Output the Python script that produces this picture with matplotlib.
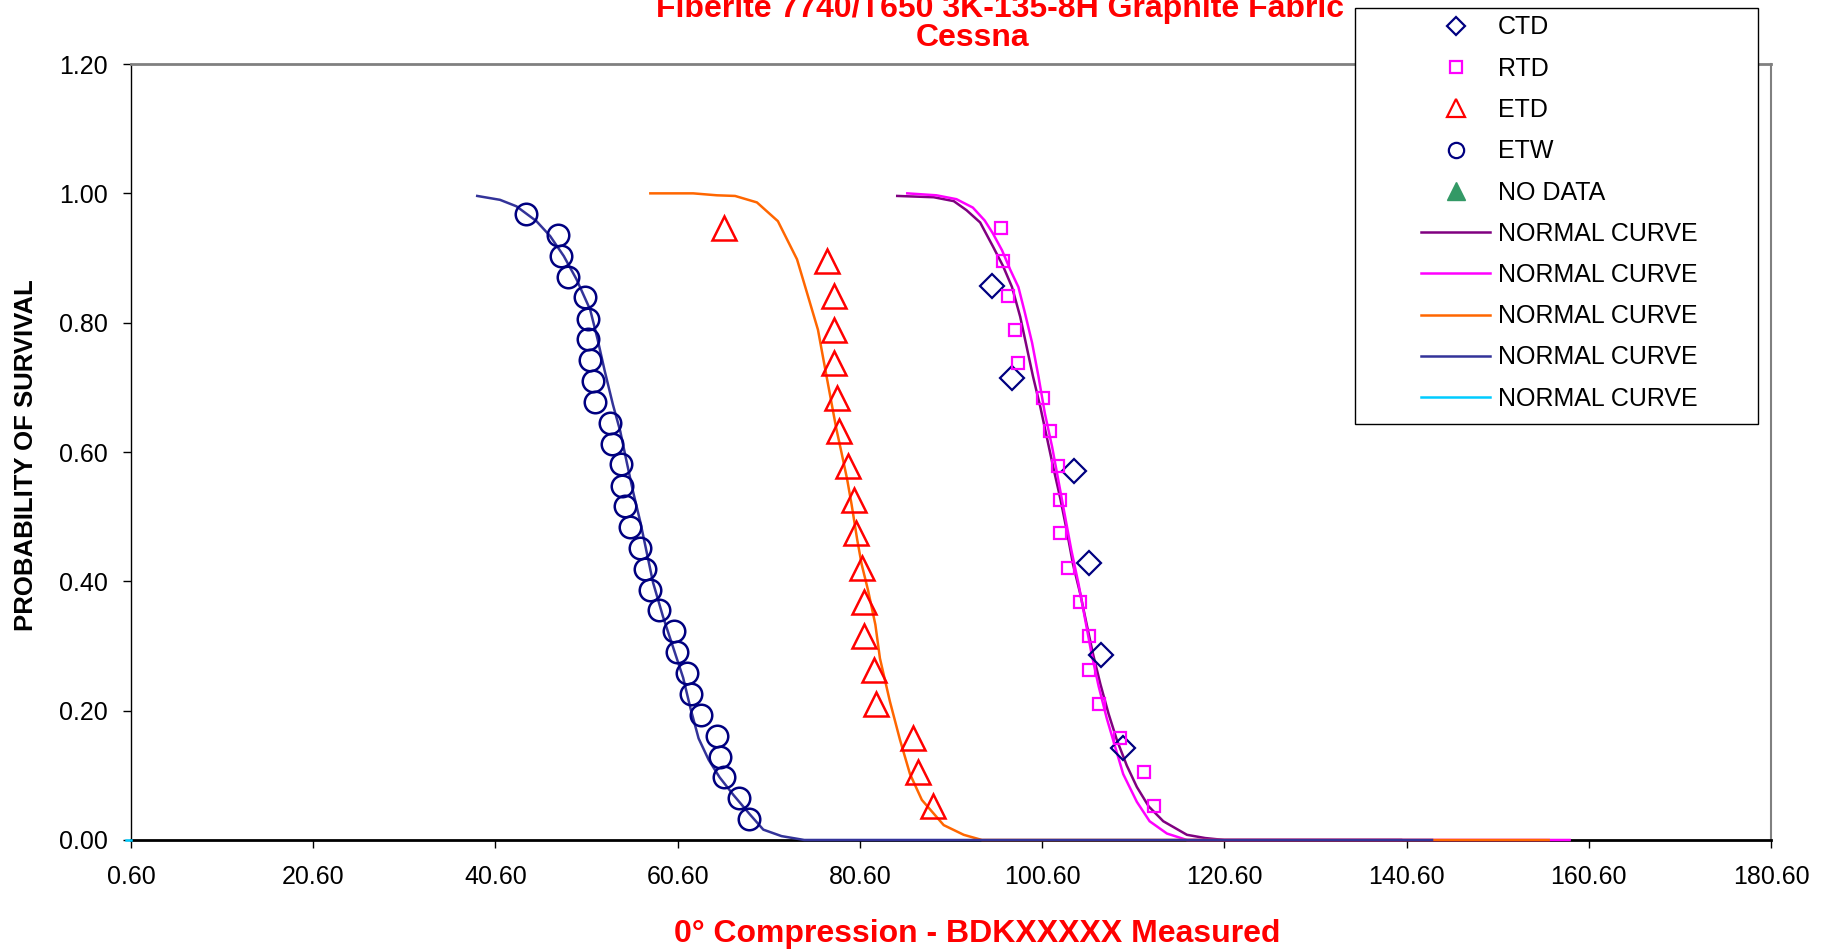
import matplotlib
matplotlib.use('Agg')
import matplotlib.pyplot as plt
from matplotlib.lines import Line2D
from matplotlib.patches import Rectangle

plt.rcParams['font.family'] = ['Liberation Sans', 'DejaVu Sans']

# measured points (strength, probability of survival)
ctd_x = [95.1, 97.3, 104.1, 105.7, 107.1, 109.5]
ctd_y = [0.857, 0.714, 0.571, 0.429, 0.286, 0.143]

rtd_x = [96.05, 96.34, 96.9, 97.65, 98.0, 100.7, 101.5, 102.3, 102.6, 102.6,
         103.4, 104.8, 105.8, 105.8, 106.9, 109.1, 111.8, 112.9]
rtd_y = [0.947, 0.895, 0.842, 0.789, 0.737, 0.684, 0.632, 0.579, 0.526, 0.474,
         0.421, 0.368, 0.316, 0.263, 0.211, 0.158, 0.105, 0.053]

etd_x = [65.7, 76.95, 77.76, 77.76, 77.76, 78.05, 78.3, 79.3, 79.9, 80.2,
         80.8, 81.0, 81.0, 82.1, 82.4, 86.4, 87.0, 88.6]
etd_y = [0.947, 0.895, 0.842, 0.789, 0.737, 0.684, 0.632, 0.579, 0.526, 0.474,
         0.421, 0.368, 0.316, 0.263, 0.211, 0.158, 0.105, 0.053]

etw_x = [43.96, 47.5, 47.8, 48.6, 50.4, 50.8, 50.8, 51.0, 51.3, 51.5,
         53.2, 53.4, 54.4, 54.5, 54.8, 55.4, 56.5, 57.0, 57.6, 58.6,
         60.2, 60.5, 61.6, 62.1, 63.2, 64.9, 65.2, 65.7, 67.3, 68.4]
etw_y = [0.968, 0.935, 0.903, 0.871, 0.839, 0.806, 0.774, 0.742, 0.710, 0.677,
         0.645, 0.613, 0.581, 0.548, 0.516, 0.484, 0.452, 0.419, 0.387, 0.355,
         0.323, 0.290, 0.258, 0.226, 0.194, 0.161, 0.129, 0.097, 0.065, 0.032]

# normal curves
ctd_curve_x = [84.7, 88.7, 90.9, 92.3, 93.8, 95.2, 96.3, 97.3, 98.2, 98.9,
               99.6, 100.4, 101.1, 101.8, 102.6, 103.3, 104.0, 104.8, 105.5, 106.2,
               107.0, 107.9, 108.8, 109.9, 111.0, 112.3, 113.9, 116.5, 118.5, 120.6, 140.0]
ctd_curve_y = [0.996, 0.994, 0.988, 0.974, 0.955, 0.918, 0.888, 0.855, 0.809, 0.763,
               0.717, 0.670, 0.624, 0.578, 0.528, 0.479, 0.426, 0.380, 0.333, 0.287,
               0.241, 0.195, 0.155, 0.115, 0.082, 0.052, 0.029, 0.008, 0.003, 0.0, 0.0]

rtd_curve_x = [85.8, 89.0, 91.2, 93.0, 94.3, 95.2, 96.2, 97.1, 98.0, 98.7,
               99.5, 100.2, 100.9, 101.7, 102.4, 103.1, 103.8, 104.6, 105.3, 106.0,
               106.8, 107.7, 108.6, 109.5, 111.0, 112.4, 114.3, 116.5, 158.5]
rtd_curve_y = [1.0, 0.997, 0.991, 0.978, 0.958, 0.938, 0.912, 0.882, 0.855, 0.816,
               0.769, 0.717, 0.660, 0.608, 0.555, 0.502, 0.449, 0.396, 0.343, 0.290,
               0.238, 0.188, 0.145, 0.102, 0.059, 0.029, 0.010, 0.0, 0.0]

etd_curve_x = [57.6, 62.3, 64.9, 66.9, 69.3, 71.6, 73.7, 74.8, 76.0, 76.6,
               77.3, 78.0, 78.6, 79.2, 79.7, 80.3, 80.8, 81.5, 82.3, 82.8,
               83.9, 85.0, 86.1, 87.4, 89.8, 92.0, 94.0, 156.2]
etd_curve_y = [1.0, 1.0, 0.997, 0.996, 0.986, 0.957, 0.898, 0.846, 0.789, 0.743,
               0.690, 0.637, 0.598, 0.558, 0.518, 0.465, 0.426, 0.386, 0.333, 0.281,
               0.214, 0.155, 0.102, 0.062, 0.023, 0.008, 0.0, 0.0]

etw_curve_x = [38.6, 41.1, 42.9, 45.1, 46.6, 48.1, 49.5, 51.0, 51.8, 52.6,
               53.5, 54.3, 55.0, 55.7, 56.5, 57.2, 57.9, 59.0, 60.1, 61.2,
               62.0, 62.9, 64.0, 65.2, 66.7, 68.5, 70.0, 72.0, 74.5, 143.4]
etw_curve_y = [0.996, 0.990, 0.980, 0.957, 0.934, 0.903, 0.867, 0.820, 0.775, 0.725,
               0.673, 0.632, 0.585, 0.539, 0.492, 0.445, 0.398, 0.345, 0.298, 0.251,
               0.204, 0.157, 0.124, 0.097, 0.070, 0.040, 0.016, 0.006, 0.0, 0.0]

nodata_curve_x = [0.0, 0.6]
nodata_curve_y = [0.0, 0.0]

x_ticks = [0.6, 20.6, 40.6, 60.6, 80.6, 100.6, 120.6, 140.6, 160.6, 180.6]
y_ticks = [0.0, 0.2, 0.4, 0.6, 0.8, 1.0, 1.2]

NAVY = '#000080'
MAGENTA = '#FF00FF'

fig = plt.figure(figsize=(18.35, 9.5), dpi=100)
ax = fig.add_axes([0.0714, 0.1158, 0.8937, 0.8168])

# curves, in series order so the later ones sit on top along y=0
ax.plot(ctd_curve_x, ctd_curve_y, color='#800080', lw=1.8, zorder=3, clip_on=False)
ax.plot(rtd_curve_x, rtd_curve_y, color=MAGENTA, lw=1.8, zorder=3, clip_on=False)
ax.plot(etd_curve_x, etd_curve_y, color='#FF6600', lw=1.8, zorder=3, clip_on=False)
ax.plot(etw_curve_x, etw_curve_y, color='#333399', lw=1.8, zorder=3, clip_on=False)
ax.plot(nodata_curve_x, nodata_curve_y, color='#00CCFF', lw=1.8, zorder=3, clip_on=False)

ax.plot(ctd_x, ctd_y, 'D', ms=12.5, mfc='none', mec=NAVY, mew=1.6, zorder=4)
ax.plot(rtd_x, rtd_y, 's', ms=8.5, mfc='none', mec=MAGENTA, mew=1.6, zorder=4)
ax.plot(etd_x, etd_y, '^', ms=17, mfc='none', mec='red', mew=1.8, zorder=4)
ax.plot(etw_x, etw_y, 'o', ms=15.5, mfc='none', mec=NAVY, mew=1.8, zorder=4)

ax.set_xlim(0.6, 180.6)
ax.set_ylim(0, 1.2)
ax.set_xticks(x_ticks)
ax.set_xticklabels([f'{v:.2f}' for v in x_ticks])
ax.set_yticks(y_ticks)
ax.set_yticklabels([f'{v:.2f}' for v in y_ticks])
ax.tick_params(axis='x', direction='out', length=6, width=1, pad=12, labelsize=18)
ax.tick_params(axis='y', direction='out', length=6, width=1, pad=11, labelsize=18)

ax.spines['left'].set_color('black')
ax.spines['left'].set_linewidth(1)
ax.spines['bottom'].set_color('black')
ax.spines['bottom'].set_linewidth(2)
ax.spines['top'].set_color('#808080')
ax.spines['top'].set_linewidth(2)
ax.spines['right'].set_color('#808080')
ax.spines['right'].set_linewidth(1.5)

fig.text(1000 / 1835, 1 - 17 / 950, 'Fiberite 7740/T650 3K-135-8H Graphite Fabric',
         ha='center', va='baseline', fontsize=23, weight='bold', color='red')
fig.text(973 / 1835, 1 - 45.6 / 950, 'Cessna',
         ha='center', va='baseline', fontsize=23, weight='bold', color='red')
fig.text(977 / 1835, 1 - 942 / 950, '0° Compression - BDKXXXXX Measured',
         ha='center', va='baseline', fontsize=23, weight='bold', color='red')
fig.text(26 / 1835, 1 - 455 / 950, 'PROBABILITY OF SURVIVAL', rotation=90,
         ha='center', va='center', fontsize=18.5, weight='bold', color='black')

# legend box drawn separately so the padding can match
fig.patches.append(Rectangle((1355 / 1835, 1 - 424 / 950), 403 / 1835, 416 / 950,
                             transform=fig.transFigure, facecolor='white',
                             edgecolor='black', lw=1, zorder=4))

handles = [
    Line2D([], [], ls='none', marker='D', ms=9, mfc='none', mec=NAVY, mew=1.6),
    Line2D([], [], ls='none', marker='s', ms=9, mfc='none', mec=MAGENTA, mew=1.6),
    Line2D([], [], ls='none', marker='^', ms=13, mfc='none', mec='red', mew=1.6),
    Line2D([], [], ls='none', marker='o', ms=11, mfc='none', mec=NAVY, mew=1.6),
    Line2D([], [], ls='none', marker='^', ms=13, mfc='#339966', mec='#339966'),
    Line2D([], [], color='#800080', lw=1.8),
    Line2D([], [], color=MAGENTA, lw=1.8),
    Line2D([], [], color='#FF6600', lw=1.8),
    Line2D([], [], color='#333399', lw=1.8),
    Line2D([], [], color='#00CCFF', lw=1.8),
]
labels = ['CTD', 'RTD', 'ETD', 'ETW', 'NO DATA', 'NORMAL CURVE', 'NORMAL CURVE',
          'NORMAL CURVE', 'NORMAL CURVE', 'NORMAL CURVE']
leg = fig.legend(handles, labels, loc='upper left',
                 bbox_to_anchor=(1421 / 1835, 1 - 15.5 / 950), frameon=False,
                 fontsize=18, borderpad=0, borderaxespad=0, handlelength=2.76,
                 handletextpad=0.32, labelspacing=0.69)
leg.set_zorder(5)

fig.savefig('out.png', dpi=100)
